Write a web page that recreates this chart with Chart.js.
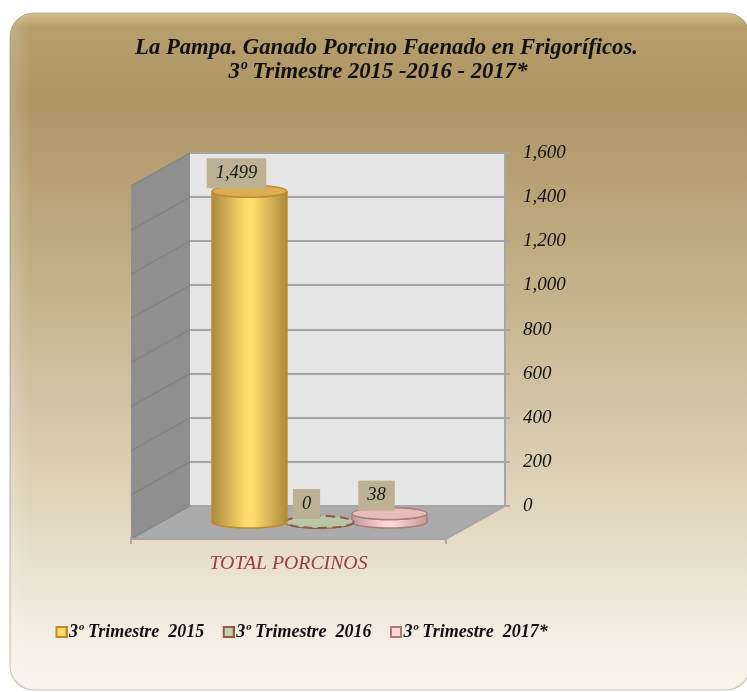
<!DOCTYPE html>
<html><head><meta charset="utf-8">
<style>html,body{margin:0;padding:0;background:#fff}canvas{display:block}</style>
<script src="https://cdn.jsdelivr.net/npm/chart.js@4"></script>
</head><body>
<canvas id="c" width="747" height="692"></canvas>
<script>
const titleLines = ['La Pampa. Ganado Porcino Faenado en Frigoríficos.', '3º Trimestre 2015 -2016 - 2017*   '];
const categories = ['TOTAL PORCINOS'];
const seriesNames = ['3º Trimestre  2015', '3º Trimestre  2016', '3º Trimestre  2017*'];
const values2015 = [1499];
const values2016 = [0];
const values2017 = [38];
const fills = ['#ffdc6b', '#c4d2b0', '#ffd6d6'];
const sideEdges = ['#ad8a3c', '#a9b597', '#c59a9a'];
const caps = ['#dcae52', '#bac6a8', '#e9bcbc'];
const borders = ['#c08a2a', '#8f5a45', '#a87c78'];
const SERIF = '"Liberation Serif", serif';
const D = {x: -59, y: 33};
const BAR = {x: -28, y: 16, ry: 6};

function swatch(fill, border) {
  const s = document.createElement('canvas'); s.width = 16; s.height = 12;
  const g = s.getContext('2d');
  g.fillStyle = fill; g.fillRect(5, 1, 10, 10);
  g.strokeStyle = border; g.lineWidth = 2; g.strokeRect(5, 1, 10, 10);
  return s;
}

const scene = {
  id: 'scene',
  afterLayout(chart) {
    const t = chart.titleBlock; t.left += 26; t.top += 1; t.bottom += 1;
    const l = chart.legend; l.left = 37; l.right = 747; l.top = 601;
  },
  beforeDraw(chart) {
    const ctx = chart.ctx;
    ctx.save();
    ctx.fillStyle = '#fff'; ctx.fillRect(0, 0, 747, 692);
    ctx.beginPath(); ctx.roundRect(10, 13, 740, 677, 24);
    const g = ctx.createLinearGradient(0, 13, 0, 690);
    g.addColorStop(0, '#b8a16d'); g.addColorStop(.13, '#ae9665'); g.addColorStop(.42, '#c5b38d');
    g.addColorStop(.72, '#e0d4bc'); g.addColorStop(.94, '#f6f0e7'); g.addColorStop(1, '#f8f3ec');
    ctx.fillStyle = g; ctx.fill();
    ctx.save(); ctx.clip();
    let s = ctx.createLinearGradient(0, 13, 0, 26);
    s.addColorStop(0, 'rgba(255,240,180,.4)'); s.addColorStop(1, 'rgba(255,240,180,0)');
    ctx.fillStyle = s; ctx.fillRect(10, 13, 740, 13);
    s = ctx.createLinearGradient(10, 0, 30, 0);
    s.addColorStop(0, 'rgba(255,255,255,.18)'); s.addColorStop(1, 'rgba(255,255,255,0)');
    ctx.fillStyle = s; ctx.fillRect(10, 13, 20, 677);
    ctx.restore();
    ctx.strokeStyle = 'rgba(125,115,95,.4)'; ctx.lineWidth = 1.2; ctx.stroke();

    const a = chart.chartArea, y = chart.scales.y;
    ctx.fillStyle = '#e6e6e6'; ctx.fillRect(a.left, a.top, a.right - a.left, a.bottom - a.top);
    ctx.beginPath(); ctx.moveTo(a.left, a.top); ctx.lineTo(a.left, a.bottom);
    ctx.lineTo(a.left + D.x, a.bottom + D.y); ctx.lineTo(a.left + D.x, a.top + D.y); ctx.closePath();
    ctx.fillStyle = '#8f8f8f'; ctx.fill();
    ctx.beginPath(); ctx.moveTo(a.left, a.bottom); ctx.lineTo(a.right, a.bottom);
    ctx.lineTo(a.right + D.x, a.bottom + D.y); ctx.lineTo(a.left + D.x, a.bottom + D.y); ctx.closePath();
    ctx.fillStyle = '#ababab'; ctx.fill();
    ctx.strokeStyle = '#828282'; ctx.lineWidth = 1.2;
    y.ticks.forEach(t => {
      const p = y.getPixelForValue(t.value);
      ctx.beginPath(); ctx.moveTo(a.left, p); ctx.lineTo(a.left + D.x, p + D.y); ctx.stroke();
    });
    ctx.strokeStyle = '#a6a6a6'; ctx.lineWidth = 2;
    ctx.beginPath();
    ctx.moveTo(a.left + D.x, a.bottom + D.y - 2); ctx.lineTo(a.left + D.x, a.bottom + D.y + 5);
    ctx.moveTo(a.left + D.x, a.bottom + D.y); ctx.lineTo(a.right + D.x, a.bottom + D.y);
    ctx.moveTo(a.right + D.x, a.bottom + D.y + 5); ctx.lineTo(a.right + D.x, a.bottom + D.y); ctx.lineTo(a.right, a.bottom);
    ctx.stroke();
    ctx.restore();
  },
  beforeDatasetDraw(chart, args) {
    const ctx = chart.ctx, i = args.index;
    const el = args.meta.data[0];
    const cx = el.x + BAR.x, top = el.y + BAR.y, base = el.base + BAR.y, rx = el.width / 2, ry = BAR.ry;
    ctx.save();
    const g = ctx.createLinearGradient(cx - rx, 0, cx + rx, 0);
    g.addColorStop(0, sideEdges[i]); g.addColorStop(.45, el.options.backgroundColor); g.addColorStop(.55, el.options.backgroundColor); g.addColorStop(1, sideEdges[i]);
    ctx.lineWidth = 1.5; ctx.strokeStyle = el.options.borderColor;
    const flat = chart.data.datasets[i].data[0] === 0;
    if (flat) { ctx.setLineDash([9, 5]); ctx.lineWidth = 2; }
    ctx.beginPath();
    ctx.moveTo(cx - rx, top); ctx.lineTo(cx - rx, base);
    ctx.ellipse(cx, base, rx, ry, 0, Math.PI, 0, true);
    ctx.lineTo(cx + rx, top);
    ctx.ellipse(cx, top, rx, ry, 0, 0, Math.PI, false);
    ctx.closePath();
    ctx.fillStyle = g; ctx.fill(); ctx.stroke();
    ctx.beginPath(); ctx.ellipse(cx, top, rx, ry, 0, 0, Math.PI * 2);
    ctx.fillStyle = caps[i]; ctx.fill(); ctx.stroke();
    ctx.restore();
    return false;
  },
  afterDatasetsDraw(chart) {
    const ctx = chart.ctx;
    ctx.save();
    ctx.font = 'italic 18.5px ' + SERIF; ctx.textAlign = 'center'; ctx.textBaseline = 'middle';
    chart.data.datasets.forEach((ds, i) => {
      const el = chart.getDatasetMeta(i).data[0];
      const cx = el.x + BAR.x - 13, cy = el.y + BAR.y - 18;
      const txt = ds.data[0].toLocaleString('en-US');
      const w = ctx.measureText(txt).width + 18;
      ctx.fillStyle = '#bcb193'; ctx.fillRect(cx - w / 2, cy - 15, w, 30);
      ctx.fillStyle = '#1a1a1a'; ctx.fillText(txt, cx, cy);
    });
    ctx.restore();
  }
};

const mk = (i, data, extra) => Object.assign({
  label: seriesNames[i], data, backgroundColor: fills[i], borderColor: borders[i], borderWidth: 1.5,
  categoryPercentage: .667, barPercentage: 1.07
}, extra || {});

new Chart(document.getElementById('c'), {
  type: 'bar',
  data: {
    labels: categories,
    datasets: [mk(0, values2015), mk(1, values2016, {barPercentage: .97}), mk(2, values2017)]
  },
  plugins: [scene],
  options: {
    responsive: false, animation: false,
    layout: {padding: 0},
    plugins: {
      tooltip: {enabled: false},
      title: {
        display: true, text: titleLines, color: '#111',
        font: {family: SERIF, size: 22.7, weight: 'bold', style: 'italic', lineHeight: '24px'},
        padding: {top: 35, bottom: 70}
      },
      legend: {
        display: true, position: 'bottom', align: 'start',
        labels: {
          usePointStyle: true, pointStyleWidth: 1, boxHeight: 12, padding: 22, color: '#111',
          font: {family: SERIF, size: 18, weight: 'bold', style: 'italic'},
          generateLabels(chart) {
            return Chart.defaults.plugins.legend.labels.generateLabels(chart).map((it, i) => {
              it.pointStyle = swatch(fills[i], borders[i]); it.lineWidth = 0; return it;
            });
          }
        }
      }
    },
    scales: {
      leftSpace: {
        type: 'linear', position: 'left', display: true,
        grid: {display: false}, border: {display: false}, ticks: {display: false},
        afterFit(s) { s.width = 190; }
      },
      x: {
        grid: {display: false, drawTicks: false}, border: {display: false},
        ticks: {color: '#9b3a3f', padding: 46, labelOffset: -59, maxRotation: 0, autoSkip: false,
          font: {family: SERIF, size: 19.8, style: 'italic'}},
        afterFit(s) { s.height = 186 - s.chart.legend.height; }
      },
      y: {
        position: 'right', min: 0, max: 1600,
        grid: {color: '#a6a6a6', lineWidth: 2, tickLength: 5},
        border: {color: '#a6a6a6', width: 2},
        ticks: {stepSize: 200, padding: 13, color: '#111',
          font: {family: SERIF, size: 19, style: 'italic'},
          callback: v => v.toLocaleString('en-US')},
        afterFit(s) { s.width = 242; }
      }
    }
  }
});
</script>
</body></html>
